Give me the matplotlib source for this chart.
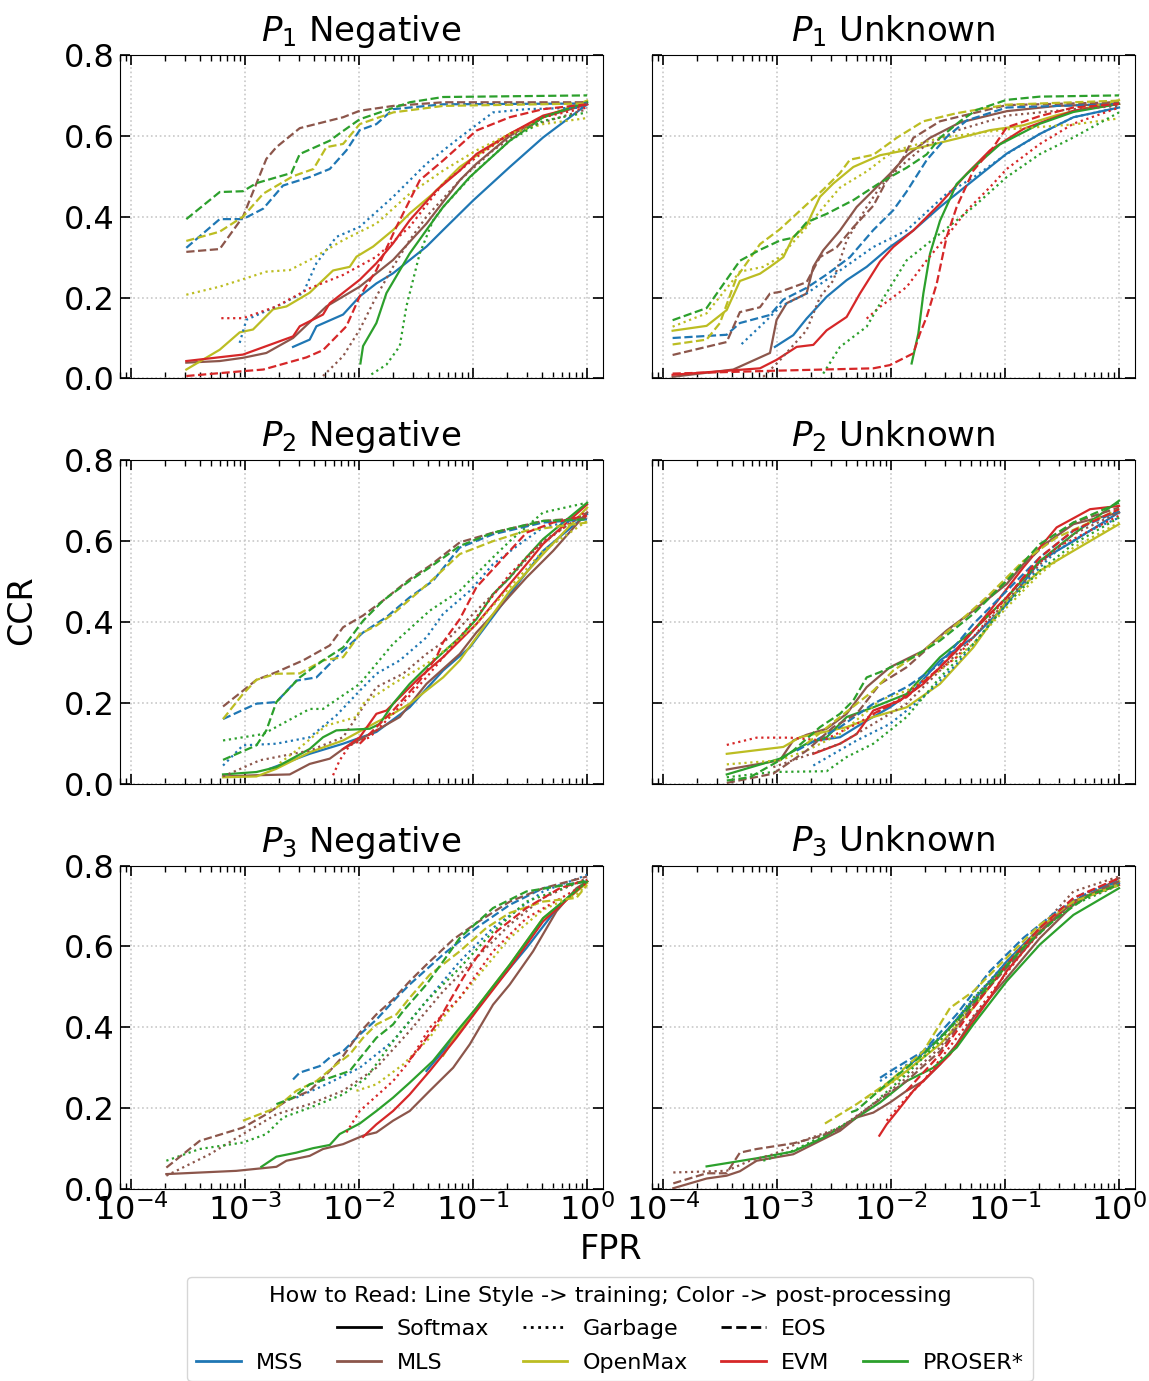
import numpy as np
import matplotlib
matplotlib.use("Agg")
import matplotlib.pyplot as plt
from matplotlib.lines import Line2D
from matplotlib.ticker import LogLocator, NullFormatter

#### Data: curves as (log10 FPR, CCR) pairs
##############################################################################
trainings = ['Softmax', 'Garbage', 'EOS']
styles = {'Softmax': '-', 'Garbage': ':', 'EOS': '--'}
methods = ['MSS', 'MLS', 'OpenMax', 'EVM', 'PROSER*']
colors = {'MSS': 'tab:blue', 'MLS': 'tab:brown', 'OpenMax': 'tab:olive',
          'EVM': 'tab:red', 'PROSER*': 'tab:green'}
titles = ['$P_1$ Negative', '$P_1$ Unknown', '$P_2$ Negative',
          '$P_2$ Unknown', '$P_3$ Negative', '$P_3$ Unknown']

p1_negative = {
    ('EOS', 'PROSER*'): [(-3.515, .394), (-3.222, .461), (-3.018, .463), (-2.90, .483), (-2.594, .508), (-2.52, .555), (-2.257, .588), (-2.17, .606), (-1.994, .641), (-1.556, .683), (-1.263, .696), (0, .70)],
    ('EOS', 'MLS'): [(-3.515, .313), (-3.222, .32), (-3.018, .40), (-2.813, .543), (-2.725, .572), (-2.52, .619), (-2.14, .646), (-1.994, .662), (-1.70, .674), (-1.263, .683), (0, .683)],
    ('EOS', 'OpenMax'): [(-3.515, .34), (-3.222, .363), (-3.018, .40), (-2.84, .457), (-2.58, .50), (-2.40, .518), (-2.287, .572), (-2.14, .58), (-1.994, .629), (-1.70, .658), (-1.263, .674), (0, .68)],
    ('EOS', 'MSS'): [(-3.515, .323), (-3.222, .394), (-3.018, .394), (-2.84, .42), (-2.667, .477), (-2.433, .498), (-2.257, .518), (-2.111, .564), (-1.994, .614), (-1.848, .629), (-1.70, .666), (-1.263, .678), (0, .68)],
    ('EOS', 'EVM'): [(-3.515, .006), (-3.018, .018), (-2.84, .022), (-2.462, .052), (-2.316, .07), (-2.111, .129), (-1.994, .203), (-1.848, .268), (-1.672, .375), (-1.468, .49), (-1.263, .539), (-0.971, .613), (-0.678, .646), (-0.386, .666), (0, .678)],
    ('Softmax', 'OpenMax'): [(-3.515, .022), (-3.222, .071), (-3.047, .114), (-2.93, .121), (-2.754, .171), (-2.637, .178), (-2.433, .212), (-2.228, .267), (-2.082, .276), (-2.023, .301), (-1.877, .326), (-1.702, .367), (-1.556, .408), (-1.351, .457), (-1.117, .523), (-0.971, .551), (-0.678, .605), (-0.386, .646), (0, .687)],
    ('Softmax', 'EVM'): [(-3.515, .043), (-3.018, .059), (-2.813, .08), (-2.579, .104), (-2.52, .129), (-2.316, .158), (-2.257, .186), (-1.994, .244), (-1.848, .285), (-1.702, .334), (-1.556, .391), (-1.322, .465), (-1.117, .514), (-0.971, .555), (-0.678, .605), (-0.386, .65), (0, .678)],
    ('Softmax', 'MLS'): [(-3.515, .039), (-3.222, .043), (-3.018, .051), (-2.813, .063), (-2.579, .10), (-2.287, .178), (-1.994, .227), (-1.702, .293), (-1.409, .383), (-1.117, .49), (-0.971, .531), (-0.678, .60), (-0.386, .646), (0, .678)],
    ('Softmax', 'MSS'): [(-2.579, .078), (-2.433, .096), (-2.374, .129), (-2.14, .158), (-1.994, .203), (-1.848, .235), (-1.702, .26), (-1.409, .326), (-1.263, .367), (-1.0, .44), (-0.678, .523), (-0.386, .596), (0, .678)],
    ('Softmax', 'PROSER*'): [(-1.988, .037), (-1.965, .08), (-1.848, .137), (-1.760, .211), (-1.556, .309), (-1.409, .367), (-1.263, .424), (-1.029, .498), (-0.678, .588), (-0.386, .646), (0, .683)],
    ('Garbage', 'OpenMax'): [(-3.515, .207), (-3.222, .227), (-2.813, .264), (-2.608, .268), (-2.433, .293), (-2.14, .342), (-1.848, .383), (-1.556, .457), (-1.263, .514), (-0.971, .564), (-0.678, .605), (-0.386, .629), (0, .644)],
    ('Garbage', 'MSS'): [(-3.047, .088), (-2.988, .145), (-2.725, .178), (-2.491, .211), (-2.374, .285), (-2.199, .35), (-1.994, .375), (-1.702, .449), (-1.409, .531), (-1.117, .596), (-0.825, .658), (-0.532, .666), (0, .67)],
    ('Garbage', 'EVM'): [(-3.208, .149), (-3.018, .149), (-2.725, .178), (-2.433, .223), (-2.14, .256), (-1.848, .301), (-1.556, .375), (-1.263, .482), (-0.971, .547), (-0.678, .605), (-0.386, .646), (0, .67)],
    ('Garbage', 'MLS'): [(-2.316, .006), (-2.14, .055), (-1.994, .121), (-1.848, .203), (-1.702, .276), (-1.556, .342), (-1.409, .40), (-1.117, .49), (-0.825, .564), (-0.532, .621), (0, .666)],
    ('Garbage', 'PROSER*'): [(-1.892, .01), (-1.760, .034), (-1.643, .08), (-1.585, .178), (-1.468, .309), (-1.351, .391), (-1.263, .424), (-0.971, .514), (-0.678, .588), (-0.386, .637), (0, .658)],
}

p1_unknown = {
    ('EOS', 'PROSER*'): [(-3.915, .144), (-3.617, .174), (-3.325, .291), (-3.149, .318), (-2.974, .341), (-2.857, .348), (-2.74, .386), (-2.564, .407), (-2.33, .441), (-2.096, .484), (-1.863, .521), (-1.687, .554), (-1.57, .595), (-1.395, .636), (-1.249, .664), (-0.985, .689), (-0.693, .697), (0, .70)],
    ('EOS', 'OpenMax'): [(-3.915, .084), (-3.617, .096), (-3.50, .137), (-3.354, .25), (-3.149, .332), (-2.974, .369), (-2.74, .43), (-2.594, .467), (-2.447, .508), (-2.36, .541), (-2.155, .553), (-1.95, .595), (-1.716, .636), (-1.424, .656), (-0.985, .677), (0, .687)],
    ('EOS', 'MLS'): [(-3.915, .058), (-3.441, .09), (-3.325, .164), (-3.149, .176), (-3.061, .21), (-2.974, .214), (-2.74, .238), (-2.623, .30), (-2.477, .324), (-2.33, .374), (-2.155, .427), (-2.038, .489), (-1.892, .546), (-1.804, .595), (-1.57, .636), (-1.278, .656), (-0.985, .676), (0, .683)],
    ('EOS', 'MSS'): [(-3.915, .10), (-3.441, .108), (-3.325, .137), (-3.061, .157), (-2.944, .195), (-2.74, .224), (-2.564, .257), (-2.36, .30), (-2.155, .367), (-1.98, .416), (-1.863, .462), (-1.687, .54), (-1.512, .597), (-1.336, .638), (-0.985, .67), (0, .679)],
    ('EOS', 'EVM'): [(-3.915, .012), (-3.032, .019), (-2.155, .025), (-2.009, .033), (-1.804, .062), (-1.746, .111), (-1.687, .152), (-1.599, .234), (-1.512, .35), (-1.424, .424), (-1.278, .514), (-1.102, .572), (-0.985, .621), (-0.693, .649), (-0.40, .67), (0, .679)],
    ('Softmax', 'OpenMax'): [(-3.915, .118), (-3.617, .13), (-3.441, .169), (-3.325, .241), (-3.149, .259), (-3.061, .276), (-2.944, .30), (-2.857, .35), (-2.74, .379), (-2.623, .449), (-2.506, .482), (-2.33, .523), (-2.096, .552), (-1.716, .573), (-1.424, .593), (-1.132, .614), (-0.839, .626), (-0.547, .651), (0, .688)],
    ('Softmax', 'MLS'): [(-3.915, .004), (-3.383, .022), (-3.061, .063), (-3.003, .145), (-2.915, .186), (-2.74, .21), (-2.681, .276), (-2.594, .317), (-2.447, .366), (-2.301, .424), (-2.155, .465), (-2.009, .506), (-1.863, .551), (-1.658, .595), (-1.395, .633), (-0.985, .661), (-0.547, .674), (0, .679)],
    ('Softmax', 'MSS'): [(-3.018, .078), (-2.857, .107), (-2.74, .148), (-2.564, .202), (-2.389, .243), (-2.213, .276), (-2.009, .325), (-1.804, .366), (-1.57, .424), (-1.278, .49), (-0.985, .556), (-0.693, .605), (-0.40, .646), (0, .67)],
    ('Softmax', 'EVM'): [(-3.915, .009), (-3.149, .025), (-3.003, .046), (-2.827, .078), (-2.681, .083), (-2.564, .119), (-2.389, .152), (-2.272, .21), (-2.096, .289), (-1.98, .325), (-1.804, .366), (-1.57, .432), (-1.336, .506), (-1.132, .564), (-0.839, .617), (-0.40, .662), (0, .679)],
    ('Softmax', 'PROSER*'): [(-1.819, .037), (-1.76, .111), (-1.716, .21), (-1.658, .308), (-1.57, .39), (-1.424, .481), (-1.278, .521), (-1.044, .579), (-0.693, .63), (-0.40, .659), (0, .679)],
    ('Garbage', 'OpenMax'): [(-3.915, .128), (-3.617, .161), (-3.325, .264), (-3.12, .276), (-2.974, .30), (-2.74, .374), (-2.447, .472), (-2.213, .512), (-1.98, .562), (-1.57, .595), (-0.985, .616), (-0.40, .628), (0, .643)],
    ('Garbage', 'MSS'): [(-3.31, .085), (-3.09, .144), (-2.974, .177), (-2.74, .21), (-2.447, .267), (-2.155, .325), (-1.863, .366), (-1.512, .457), (-1.278, .497), (-0.985, .555), (-0.693, .605), (-0.40, .646), (0, .67)],
    ('Garbage', 'MLS'): [(-3.12, .004), (-2.974, .045), (-2.74, .119), (-2.623, .201), (-2.506, .242), (-2.389, .341), (-2.213, .424), (-2.096, .473), (-1.921, .523), (-1.716, .572), (-1.424, .613), (-0.985, .65), (-0.40, .666), (0, .674)],
    ('Garbage', 'EVM'): [(-2.213, .148), (-2.096, .177), (-1.863, .226), (-1.687, .292), (-1.482, .362), (-1.336, .415), (-1.132, .473), (-0.985, .518), (-0.693, .58), (-0.40, .63), (0, .67)],
    ('Garbage', 'PROSER*'): [(-2.594, .012), (-2.447, .078), (-2.213, .128), (-2.096, .185), (-1.863, .292), (-1.57, .358), (-1.278, .424), (-0.985, .498), (-0.693, .555), (-0.40, .596), (0, .658)],
}

p2_negative = {
    ('EOS', 'MLS'): [(-3.193, .191), (-3.018, .23), (-2.9, .257), (-2.725, .276), (-2.491, .305), (-2.257, .342), (-2.14, .387), (-1.965, .416), (-1.789, .453), (-1.556, .506), (-1.38, .539), (-1.117, .597), (-0.825, .621), (-0.386, .65), (0, .658)],
    ('EOS', 'OpenMax'): [(-3.193, .16), (-3.018, .222), (-2.9, .257), (-2.725, .272), (-2.52, .273), (-2.316, .305), (-2.14, .313), (-1.994, .37), (-1.848, .391), (-1.702, .42), (-1.468, .477), (-1.351, .506), (-1.117, .568), (-0.825, .60), (-0.532, .626), (0, .646)],
    ('EOS', 'MSS'): [(-3.193, .16), (-2.9, .198), (-2.725, .202), (-2.55, .255), (-2.374, .263), (-2.17, .321), (-1.965, .374), (-1.76, .412), (-1.556, .461), (-1.351, .502), (-1.117, .584), (-0.825, .617), (-0.386, .646), (0, .654)],
    ('EOS', 'PROSER*'): [(-3.193, .059), (-2.9, .095), (-2.813, .132), (-2.725, .202), (-2.52, .263), (-2.316, .305), (-2.14, .337), (-1.965, .403), (-1.789, .453), (-1.556, .502), (-1.38, .535), (-1.117, .588), (-0.825, .621), (-0.386, .65), (0, .654)],
    ('EOS', 'EVM'): [(-1.994, .099), (-1.702, .181), (-1.468, .255), (-1.322, .313), (-1.263, .35), (-1.117, .407), (-0.971, .486), (-0.678, .576), (-0.532, .621), (-0.298, .646), (0, .663)],
    ('Softmax', 'PROSER*'): [(-3.193, .023), (-2.9, .029), (-2.725, .041), (-2.433, .086), (-2.316, .115), (-2.199, .132), (-1.906, .136), (-1.819, .148), (-1.702, .198), (-1.556, .247), (-1.409, .288), (-1.263, .325), (-1.117, .362), (-0.971, .407), (-0.825, .469), (-0.678, .51), (-0.532, .56), (-0.386, .605), (0, .695)],
    ('Softmax', 'OpenMax'): [(-3.193, .016), (-2.9, .018), (-2.725, .037), (-2.433, .078), (-2.14, .107), (-1.848, .152), (-1.702, .173), (-1.556, .198), (-1.263, .263), (-1.117, .305), (-0.971, .362), (-0.825, .42), (-0.678, .477), (-0.386, .568), (0, .683)],
    ('Softmax', 'MLS'): [(-3.193, .018), (-2.9, .021), (-2.608, .023), (-2.433, .049), (-2.257, .062), (-2.14, .086), (-1.848, .132), (-1.643, .165), (-1.409, .247), (-1.117, .321), (-0.971, .374), (-0.795, .428), (-0.532, .51), (-0.298, .576), (0, .671)],
    ('Softmax', 'MSS'): [(-2.784, .037), (-2.433, .074), (-2.14, .099), (-1.848, .128), (-1.556, .189), (-1.263, .28), (-1.029, .337), (-0.678, .469), (-0.386, .576), (0, .667)],
    ('Softmax', 'EVM'): [(-2.14, .086), (-1.994, .115), (-1.848, .173), (-1.76, .181), (-1.643, .214), (-1.468, .263), (-1.263, .313), (-1.088, .362), (-0.971, .395), (-0.825, .444), (-0.678, .494), (-0.532, .543), (-0.386, .593), (0, .691)],
    ('Garbage', 'PROSER*'): [(-3.193, .107), (-2.84, .123), (-2.433, .185), (-2.316, .185), (-1.994, .247), (-1.702, .346), (-1.38, .428), (-1.117, .477), (-0.971, .519), (-0.825, .56), (-0.678, .60), (-0.386, .671), (0, .695)],
    ('Garbage', 'MSS'): [(-3.193, .045), (-3.018, .095), (-2.725, .099), (-2.433, .115), (-2.199, .169), (-1.994, .23), (-1.848, .272), (-1.643, .305), (-1.409, .362), (-1.263, .42), (-1.029, .477), (-0.825, .543), (-0.59, .593), (-0.386, .634), (0, .658)],
    ('Garbage', 'MLS'): [(-3.193, .018), (-2.87, .058), (-2.433, .082), (-2.14, .115), (-1.848, .239), (-1.614, .272), (-1.409, .321), (-1.205, .362), (-0.971, .428), (-0.678, .51), (-0.386, .60), (0, .671)],
    ('Garbage', 'OpenMax'): [(-2.696, .051), (-2.55, .082), (-2.287, .144), (-2.023, .165), (-1.965, .198), (-1.702, .247), (-1.409, .296), (-1.175, .346), (-0.971, .395), (-0.678, .486), (-0.386, .576), (0, .65)],
    ('Garbage', 'EVM'): [(-2.228, .021), (-2.17, .058), (-2.082, .095), (-1.906, .115), (-1.702, .173), (-1.409, .263), (-1.117, .362), (-0.971, .412), (-0.678, .519), (-0.444, .584), (0, .675)],
}

p2_unknown = {
    ('EOS', 'PROSER*'): [(-3.44, .008), (-3.237, .016), (-2.974, .058), (-2.857, .082), (-2.623, .14), (-2.447, .173), (-2.33, .206), (-2.213, .263), (-2.096, .276), (-1.804, .313), (-1.57, .354), (-1.278, .42), (-0.985, .502), (-0.693, .593), (-0.40, .646), (0, .695)],
    ('Softmax', 'MLS'): [(-3.44, .035), (-2.974, .058), (-2.857, .107), (-2.74, .121), (-2.564, .136), (-2.389, .173), (-2.213, .239), (-2.009, .288), (-1.716, .329), (-1.512, .379), (-1.278, .428), (-0.985, .494), (-0.839, .543), (-0.693, .584), (-0.40, .642), (0, .671)],
    ('EOS', 'MLS'): [(-3.44, .002), (-3.032, .025), (-2.74, .082), (-2.506, .14), (-2.301, .173), (-2.096, .247), (-1.863, .288), (-1.57, .362), (-1.278, .428), (-0.985, .502), (-0.693, .58), (-0.40, .646), (0, .683)],
    ('EOS', 'OpenMax'): [(-2.74, .099), (-2.447, .165), (-2.155, .23), (-1.98, .28), (-1.716, .329), (-1.424, .395), (-1.132, .469), (-0.839, .551), (-0.547, .609), (0, .679)],
    ('Softmax', 'PROSER*'): [(-3.44, .023), (-2.974, .062), (-2.74, .099), (-2.564, .115), (-2.389, .165), (-2.155, .189), (-1.863, .222), (-1.57, .313), (-1.278, .379), (-0.985, .461), (-0.693, .551), (-0.40, .617), (0, .70)],
    ('Softmax', 'MSS'): [(-2.652, .107), (-2.447, .115), (-2.213, .156), (-2.009, .189), (-1.804, .23), (-1.57, .305), (-1.278, .362), (-0.985, .444), (-0.693, .551), (-0.40, .60), (0, .671)],
    ('EOS', 'MSS'): [(-2.827, .082), (-2.447, .14), (-2.155, .198), (-1.863, .239), (-1.57, .296), (-1.278, .395), (-0.985, .477), (-0.693, .56), (-0.40, .626), (0, .675)],
    ('Softmax', 'OpenMax'): [(-3.44, .074), (-2.944, .091), (-2.798, .115), (-2.389, .14), (-2.155, .165), (-1.863, .189), (-1.57, .247), (-1.278, .337), (-0.985, .453), (-0.693, .527), (-0.40, .576), (0, .642)],
    ('Softmax', 'EVM'): [(-2.681, .074), (-2.447, .099), (-2.301, .123), (-2.155, .181), (-1.921, .206), (-1.716, .247), (-1.424, .329), (-1.132, .428), (-0.839, .535), (-0.547, .634), (-0.254, .679), (0, .687)],
    ('EOS', 'EVM'): [(-2.155, .173), (-1.863, .214), (-1.57, .288), (-1.278, .379), (-0.985, .461), (-0.693, .56), (-0.40, .626), (0, .679)],
    ('Garbage', 'EVM'): [(-3.44, .096), (-3.178, .114), (-2.886, .114), (-2.594, .107), (-2.301, .148), (-1.921, .21), (-1.716, .255), (-1.424, .313), (-1.132, .412), (-0.839, .51), (-0.547, .584), (0, .663)],
    ('Garbage', 'OpenMax'): [(-3.44, .048), (-2.974, .058), (-2.74, .082), (-2.447, .123), (-2.096, .206), (-1.863, .23), (-1.57, .28), (-1.278, .346), (-0.985, .436), (-0.693, .519), (-0.40, .584), (0, .646)],
    ('Garbage', 'MLS'): [(-3.032, .041), (-2.74, .07), (-2.447, .099), (-2.155, .148), (-1.863, .198), (-1.57, .28), (-1.278, .362), (-0.985, .453), (-0.693, .543), (-0.40, .617), (0, .671)],
    ('Garbage', 'PROSER*'): [(-3.44, .016), (-3.032, .029), (-2.564, .031), (-2.389, .066), (-2.155, .099), (-1.863, .165), (-1.57, .263), (-1.278, .346), (-0.985, .444), (-0.693, .527), (-0.40, .593), (0, .658)],
    ('Garbage', 'MSS'): [(-2.681, .045), (-2.301, .107), (-2.009, .148), (-1.716, .214), (-1.424, .296), (-1.132, .395), (-0.839, .494), (-0.547, .576), (-0.254, .626), (0, .658)],
}

p3_negative = {
    ('Softmax', 'MLS'): [(-3.69, .037), (-3.076, .045), (-2.725, .055), (-2.637, .07), (-2.433, .082), (-2.316, .099), (-2.14, .111), (-1.965, .132), (-1.848, .14), (-1.702, .169), (-1.556, .193), (-1.38, .243), (-1.175, .30), (-1.029, .358), (-0.825, .456), (-0.678, .506), (-0.474, .588), (-0.269, .687), (-0.094, .744), (0, .761)],
    ('Softmax', 'PROSER*'): [(-2.857, .055), (-2.725, .08), (-2.55, .09), (-2.404, .101), (-2.257, .109), (-2.17, .136), (-1.994, .162), (-1.848, .193), (-1.702, .226), (-1.556, .263), (-1.351, .317), (-1.117, .399), (-0.971, .448), (-0.678, .555), (-0.386, .67), (0, .761)],
    ('Softmax', 'EVM'): [(-1.965, .129), (-1.848, .16), (-1.702, .193), (-1.556, .234), (-1.38, .292), (-1.146, .374), (-0.971, .44), (-0.678, .547), (-0.386, .662), (0, .761)],
    ('Softmax', 'MSS'): [(-1.409, .292), (-1.117, .39), (-0.825, .497), (-0.532, .596), (-0.24, .703), (0, .761)],
    ('Softmax', 'OpenMax'): [(-1.263, .33), (-1.146, .382), (-0.971, .448), (-0.678, .555), (-0.386, .67), (0, .757)],
    ('EOS', 'MLS'): [(-3.69, .053), (-3.398, .119), (-3.018, .152), (-2.813, .185), (-2.637, .218), (-2.433, .243), (-2.257, .292), (-2.14, .329), (-1.994, .387), (-1.848, .432), (-1.702, .469), (-1.556, .514), (-1.409, .555), (-1.175, .617), (-0.971, .658), (-0.678, .711), (-0.386, .744), (0, .773)],
    ('EOS', 'MSS'): [(-2.579, .271), (-2.52, .288), (-2.345, .304), (-2.257, .325), (-2.14, .341), (-1.994, .382), (-1.848, .419), (-1.672, .473), (-1.556, .506), (-1.263, .58), (-0.971, .646), (-0.678, .703), (-0.386, .744), (0, .761)],
    ('EOS', 'OpenMax'): [(-3.018, .169), (-2.725, .201), (-2.55, .243), (-2.374, .267), (-2.199, .308), (-2.082, .333), (-1.965, .374), (-1.848, .407), (-1.672, .432), (-1.556, .473), (-1.38, .53), (-1.117, .588), (-0.883, .646), (-0.678, .683), (-0.386, .711), (-0.094, .72), (0, .752)],
    ('EOS', 'PROSER*'): [(-2.725, .21), (-2.579, .226), (-2.433, .259), (-2.257, .275), (-2.082, .292), (-1.965, .333), (-1.848, .374), (-1.702, .407), (-1.614, .44), (-1.409, .506), (-1.263, .563), (-1.117, .621), (-0.825, .695), (-0.532, .736), (0, .761)],
    ('EOS', 'EVM'): [(-1.556, .32), (-1.468, .35), (-1.322, .407), (-1.205, .465), (-1.088, .522), (-0.971, .572), (-0.795, .637), (-0.532, .695), (-0.24, .744), (0, .765)],
    ('Garbage', 'PROSER*'): [(-3.69, .07), (-3.398, .099), (-3.018, .115), (-2.813, .136), (-2.667, .177), (-2.433, .201), (-2.14, .234), (-1.936, .275), (-1.702, .366), (-1.409, .465), (-1.117, .547), (-0.825, .637), (-0.532, .711), (0, .765)],
    ('Garbage', 'MLS'): [(-3.69, .033), (-3.31, .086), (-3.018, .136), (-2.725, .185), (-2.433, .21), (-2.14, .243), (-1.848, .30), (-1.556, .391), (-1.263, .489), (-0.971, .572), (-0.678, .654), (-0.386, .72), (0, .769)],
    ('Garbage', 'MSS'): [(-2.55, .226), (-2.287, .259), (-1.994, .30), (-1.702, .366), (-1.409, .465), (-1.117, .563), (-0.825, .646), (-0.59, .695), (-0.386, .736), (0, .777)],
    ('Garbage', 'OpenMax'): [(-2.023, .243), (-1.848, .259), (-1.614, .308), (-1.38, .374), (-1.263, .424), (-0.971, .522), (-0.678, .621), (-0.386, .691), (-0.094, .728), (0, .752)],
    ('Garbage', 'EVM'): [(-2.111, .14), (-1.994, .193), (-1.702, .267), (-1.556, .317), (-1.38, .399), (-1.117, .473), (-0.825, .588), (-0.532, .67), (0, .757)],
}

p3_unknown = {
    ('Softmax', 'MLS'): [(-3.909, .002), (-3.617, .026), (-3.442, .033), (-3.325, .044), (-3.178, .07), (-2.857, .086), (-2.681, .111), (-2.447, .144), (-2.301, .177), (-2.155, .189), (-2.009, .214), (-1.863, .243), (-1.716, .267), (-1.57, .308), (-1.424, .358), (-1.278, .424), (-1.132, .473), (-0.985, .522), (-0.693, .621), (-0.40, .703), (0, .769)],
    ('EOS', 'MLS'): [(-3.909, .014), (-3.617, .039), (-3.442, .039), (-3.325, .09), (-3.178, .099), (-2.857, .113), (-2.681, .126), (-2.447, .148), (-2.155, .21), (-1.863, .267), (-1.57, .341), (-1.278, .456), (-0.985, .547), (-0.693, .637), (-0.40, .711), (0, .761)],
    ('Garbage', 'MLS'): [(-3.909, .041), (-3.442, .045), (-3.237, .07), (-3.032, .086), (-2.74, .123), (-2.447, .152), (-2.155, .21), (-1.863, .275), (-1.57, .35), (-1.278, .465), (-0.985, .555), (-0.693, .646), (-0.40, .736), (0, .773)],
    ('Softmax', 'PROSER*'): [(-3.617, .056), (-3.178, .076), (-2.857, .093), (-2.594, .127), (-2.301, .177), (-2.096, .214), (-1.863, .267), (-1.629, .30), (-1.424, .35), (-1.278, .407), (-0.985, .514), (-0.693, .605), (-0.40, .678), (0, .744)],
    ('Garbage', 'PROSER*'): [(-3.12, .07), (-2.857, .095), (-2.594, .132), (-2.301, .177), (-2.096, .226), (-1.863, .284), (-1.57, .366), (-1.278, .473), (-0.985, .555), (-0.693, .637), (-0.40, .703), (0, .752)],
    ('EOS', 'PROSER*'): [(-2.35, .19), (-2.301, .195), (-2.009, .267), (-1.716, .333), (-1.424, .415), (-1.132, .506), (-0.839, .597), (-0.547, .67), (-0.254, .728), (0, .752)],
    ('EOS', 'OpenMax'): [(-2.579, .162), (-2.301, .21), (-2.009, .267), (-1.716, .341), (-1.482, .448), (-1.278, .489), (-0.985, .572), (-0.693, .654), (-0.40, .711), (0, .752)],
    ('Softmax', 'OpenMax'): [(-2.096, .243), (-1.863, .292), (-1.57, .358), (-1.278, .448), (-0.985, .555), (-0.693, .646), (-0.40, .711), (0, .761)],
    ('Garbage', 'OpenMax'): [(-2.213, .226), (-1.921, .275), (-1.629, .35), (-1.336, .44), (-1.044, .53), (-0.751, .621), (-0.40, .711), (0, .757)],
    ('EOS', 'MSS'): [(-2.096, .275), (-1.98, .296), (-1.716, .341), (-1.424, .432), (-1.132, .539), (-0.839, .621), (-0.547, .687), (-0.254, .736), (0, .761)],
    ('Softmax', 'MSS'): [(-1.863, .30), (-1.57, .374), (-1.278, .465), (-0.985, .563), (-0.693, .646), (-0.40, .711), (0, .757)],
    ('Garbage', 'MSS'): [(-2.096, .267), (-1.804, .317), (-1.512, .391), (-1.219, .489), (-0.927, .58), (-0.635, .662), (-0.342, .728), (0, .761)],
    ('Softmax', 'EVM'): [(-2.102, .132), (-2.038, .16), (-1.921, .201), (-1.804, .243), (-1.658, .284), (-1.482, .333), (-1.336, .391), (-1.132, .473), (-0.985, .539), (-0.693, .637), (-0.40, .711), (0, .752)],
    ('Garbage', 'EVM'): [(-2.038, .169), (-1.863, .226), (-1.716, .267), (-1.424, .374), (-1.132, .481), (-0.839, .588), (-0.547, .678), (-0.254, .736), (0, .769)],
    ('EOS', 'EVM'): [(-1.863, .243), (-1.57, .333), (-1.278, .448), (-0.985, .555), (-0.693, .646), (-0.40, .72), (0, .769)],
}

panels = [p1_negative, p1_unknown, p2_negative, p2_unknown, p3_negative, p3_unknown]

legend_title = 'How to Read: Line Style -> training; Color -> post-processing'

#### Plot
##############################################################################
fig, axes = plt.subplots(3, 2, figsize=(11.49, 13.81), dpi=100,
                         sharex=True, sharey=True)
fig.subplots_adjust(left=0.1044, right=0.9878, top=0.9602, bottom=0.139,
                    wspace=0.101, hspace=0.253)

for ax, title, curves in zip(axes.flat, titles, panels):
    for training in trainings:
        for method in methods:
            key = (training, method)
            if key not in curves:
                continue
            pts = np.array(curves[key])
            ax.plot(10 ** pts[:, 0], pts[:, 1], color=colors[method],
                    ls=styles[training], lw=1.6)
    ax.set_xscale('log')
    ax.set_xlim(8e-5, 1.38)
    ax.set_ylim(0, 0.8)
    ax.set_yticks([0, 0.2, 0.4, 0.6, 0.8])
    ax.xaxis.set_major_locator(LogLocator(base=10, numticks=10))
    ax.xaxis.set_minor_locator(LogLocator(base=10, subs=np.arange(2, 10),
                                          numticks=20))
    ax.xaxis.set_minor_formatter(NullFormatter())
    ax.grid(True, which='major', ls=':', color='#c8c8c8', lw=1.2)
    ax.tick_params(which='both', direction='in', top=True, right=True,
                   labelsize=23)
    ax.tick_params(which='major', length=7, width=1.2)
    ax.tick_params(which='minor', length=4, width=1.0)
    ax.set_title(title, fontsize=24.5, pad=10)

fig.text(0.532, 0.095, 'FPR', ha='center', va='center', fontsize=24)
fig.text(0.019, 0.558, 'CCR', ha='center', va='center', rotation=90,
         fontsize=24)

# legend: column-major fill, blanks keep the two rows aligned
blank = Line2D([], [], color='none')
handles = [blank, Line2D([], [], color=colors['MSS'], lw=2)]
labels = ['', 'MSS']
pairs = [('Softmax', 'MLS'), ('Garbage', 'OpenMax'), ('EOS', 'EVM')]
for training, method in pairs:
    handles += [Line2D([], [], color='k', ls=styles[training], lw=2),
                Line2D([], [], color=colors[method], lw=2)]
    labels += [training, method]
handles += [blank, Line2D([], [], color=colors['PROSER*'], lw=2)]
labels += ['', 'PROSER*']

fig.legend(handles, labels, loc='upper center', bbox_to_anchor=(0.531, 0.0753),
           borderaxespad=0, ncol=5, fontsize=16, title=legend_title,
           title_fontsize=16, handlelength=2.0, columnspacing=1.5,
           labelspacing=0.6, borderpad=0.4, handletextpad=0.7)

fig.savefig('out.png', dpi=100)
